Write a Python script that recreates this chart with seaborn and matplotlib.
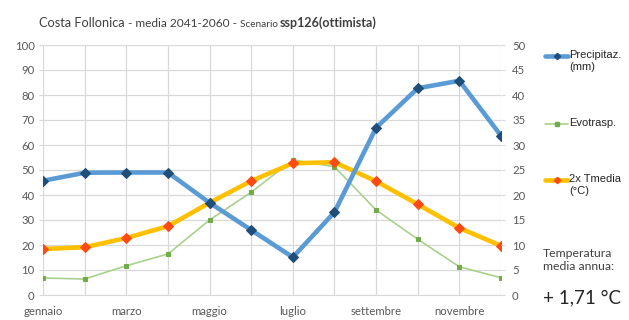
import matplotlib
matplotlib.use("Agg")
import matplotlib.pyplot as plt
import seaborn as sns
import pandas as pd
from matplotlib.lines import Line2D

mesi = ["gennaio", "febbraio", "marzo", "aprile", "maggio", "giugno",
        "luglio", "agosto", "settembre", "ottobre", "novembre", "dicembre"]
precipitaz = [45.7, 48.9, 49.0, 49.0, 36.9, 26.0, 15.1, 33.1, 66.9, 82.7, 85.7, 63.7]
evotrasp = [6.8, 6.4, 11.7, 16.4, 30.0, 41.1, 54.0, 51.3, 34.0, 22.3, 11.3, 6.9]
tmedia_2x = [18.4, 19.1, 22.8, 27.5, 36.9, 45.6, 52.7, 53.1, 45.5, 36.3, 26.8, 19.7]
tick_mesi = ["gennaio", "marzo", "maggio", "luglio", "settembre", "novembre"]

df = pd.DataFrame({"x": range(len(mesi)), "mese": mesi, "prec": precipitaz,
                   "evo": evotrasp, "temp": tmedia_2x})

sns.set_style("white")
plt.rcParams["font.family"] = ["Lato", "DejaVu Sans"]

fig = plt.figure(figsize=(6.29, 3.2), dpi=100)
ax = fig.add_axes([43 / 629, 25 / 320, 458 / 629, 250 / 320])
ax2 = ax.twinx()

grid_c = "#d9d9d9"
tick_c = "#595959"

sns.lineplot(data=df, x="x", y="evo", ax=ax, color="#a9d18e", linewidth=1.2,
             marker="s", markersize=3, markerfacecolor="#70ad47",
             markeredgecolor="#70ad47", zorder=3)
sns.lineplot(data=df, x="x", y="temp", ax=ax, color="#ffc000", linewidth=3.3,
             marker="D", markersize=4.6, markerfacecolor="#ff4a14",
             markeredgecolor="#ff4a14", zorder=4)
sns.lineplot(data=df, x="x", y="prec", ax=ax, color="#5b9bd5", linewidth=3.3,
             marker="D", markersize=4.6, markerfacecolor="#1f4e79",
             markeredgecolor="#1f4e79", zorder=5)

ax.set_xlim(0, 11)
ax.set_ylim(0, 100)
ax.set_yticks(range(0, 101, 10))
ax.set_xticks(range(12))
ax.set_xticklabels([m if m in tick_mesi else "" for m in mesi])
ax.grid(True, color=grid_c, linewidth=0.9)
ax.set_axisbelow(True)
ax.set_xlabel("")
ax.set_ylabel("")
for s in ax.spines.values():
    s.set_visible(False)
ax.spines["bottom"].set_visible(True)
ax.spines["bottom"].set_color(grid_c)
ax.tick_params(axis="both", colors=grid_c, labelcolor=tick_c, labelsize=8.2,
               length=3, width=0.8, pad=3)
ax.tick_params(axis="x", length=3, pad=5)

ax2.set_ylim(0, 50)
ax2.set_yticks(range(0, 51, 5))
for s in ax2.spines.values():
    s.set_visible(False)
ax2.tick_params(axis="y", colors=grid_c, labelcolor=tick_c, labelsize=8.2,
                length=3, width=0.8, pad=5)

# titolo con dimensioni miste
parts = [("Costa Follonica", 9.2, "normal"), (" - media 2041-2060 - ", 8.6, "normal"),
         ("Scenario ", 7.2, "normal"), ("ssp126(ottimista)", 9, "bold")]
fig.canvas.draw()
r = fig.canvas.get_renderer()
xpos = 39 / 629
for txt, sz, wt in parts:
    t = fig.text(xpos, 1 - 27 / 320, txt, fontsize=sz, fontweight=wt,
                 color="#404040", va="baseline", ha="left")
    bb = t.get_window_extent(renderer=r)
    xpos += bb.width / fig.bbox.width

# legenda
leg = [("Precipitaz.\n(mm)", "#5b9bd5", "#1f4e79", 3.3, "D", 56),
       ("Evotrasp.", "#a9d18e", "#70ad47", 1.2, "s", 124),
       ("2x Tmedia\n(°C)", "#ffc000", "#ff4a14", 3.3, "D", 180)]
for lab, lc, mc, lw, mk, yy in leg:
    yf = 1 - yy / 320
    fig.add_artist(Line2D([545 / 629, 568 / 629], [yf, yf], color=lc, linewidth=lw))
    fig.add_artist(Line2D([556.5 / 629], [yf], marker=mk, markersize=3.2,
                          color=mc, linestyle="none"))
    fig.text(569 / 629, yf + 6.5 / 320, lab, fontsize=8, color="#262626",
             va="top", ha="left", family=["Liberation Sans", "DejaVu Sans"],
             linespacing=1.3)

fig.text(543 / 629, 1 - 260 / 320, "Temperatura\nmedia annua:", fontsize=8.8,
         color="#404040", va="center", ha="left", linespacing=1.25)
fig.text(543 / 629, 1 - 298 / 320, "+ 1,71 °C", fontsize=13.5,
         color="#262626", va="center", ha="left")

fig.savefig("out.png", dpi=100)
